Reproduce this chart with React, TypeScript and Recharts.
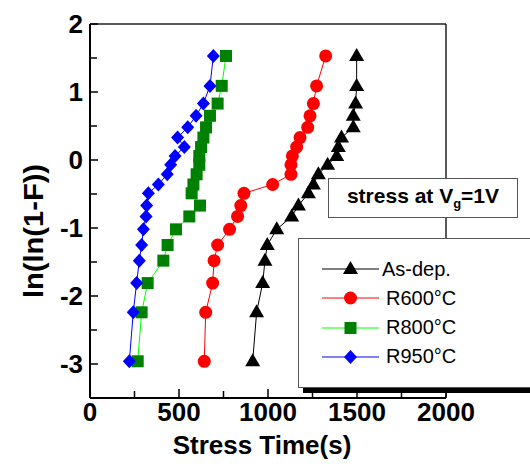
import React from "react";
import { ScatterChart, Scatter, XAxis, YAxis, ReferenceLine } from "recharts";

// ln(ln(1/(1-F))) levels, shared by all four samples
const lnlnF = [-2.96, -2.24, -1.81, -1.48, -1.25, -1.02, -0.83, -0.67, -0.49, -0.36, -0.21, -0.07, 0.06, 0.19, 0.33, 0.48, 0.65, 0.83, 1.09, 1.53];

// stress time (s) for each sample, same order as lnlnF
const asDepTime = [914, 936, 970, 983, 996, 1049, 1133, 1171, 1227, 1255, 1283, 1335, 1386, 1395, 1413, 1479, 1479, 1492, 1498, 1498];
const r600Time = [642, 650, 689, 697, 717, 784, 829, 847, 865, 1026, 1129, 1129, 1137, 1161, 1180, 1223, 1236, 1255, 1273, 1324];
const r800Time = [268, 290, 324, 412, 436, 483, 558, 618, 571, 581, 599, 614, 614, 624, 637, 652, 674, 717, 740, 764];
const r950Time = [221, 243, 262, 277, 290, 300, 315, 318, 328, 384, 434, 453, 478, 530, 492, 549, 596, 637, 674, 693];

const xTicks = [0, 250, 500, 750, 1000, 1250, 1500, 1750, 2000];
const yTicks = [-3, -2.5, -2, -1.5, -1, -0.5, 0, 0.5, 1, 1.5, 2];

const FONT = "'Liberation Sans', Arial, sans-serif";

const toRows = (times: number[]) => times.map((t, i) => ({ t, f: lnlnF[i] }));

const Triangle = (p: any) => (
  <polygon points={`${p.cx},${p.cy - 8} ${p.cx - 7.5},${p.cy + 5} ${p.cx + 7.5},${p.cy + 5}`} fill="#000" />
);
const Circle = (p: any) => <circle cx={p.cx} cy={p.cy} r={6.5} fill="#ff0000" />;
const Square = (p: any) => <rect x={p.cx - 6} y={p.cy - 6} width={12} height={12} fill="#008000" />;
const Diamond = (p: any) => (
  <polygon points={`${p.cx},${p.cy - 7} ${p.cx + 6.5},${p.cy} ${p.cx},${p.cy + 7} ${p.cx - 6.5},${p.cy}`} fill="#0000ff" />
);

const series = [
  { name: "As-dep.", times: asDepTime, line: "#000000", Shape: Triangle },
  { name: "R600°C", times: r600Time, line: "#ff0000", Shape: Circle },
  { name: "R800°C", times: r800Time, line: "#00ff00", Shape: Square },
  { name: "R950°C", times: r950Time, line: "#0000ff", Shape: Diamond },
];

const XTick = (props: any) => {
  const { x, y, payload } = props;
  const major = payload.value % 500 === 0;
  return (
    <g>
      <line x1={x} y1={y} x2={x} y2={y - (major ? 9 : 7)} stroke="#000" strokeWidth={1.5} />
      {major && (
        <text x={x} y={y + 23} textAnchor="middle" fontFamily={FONT} fontWeight="bold" fontSize={26} fill="#000">
          {payload.value}
        </text>
      )}
    </g>
  );
};

const YTick = (props: any) => {
  const { x, y, payload } = props;
  const major = Number.isInteger(payload.value);
  return (
    <g>
      <line x1={x} y1={y} x2={x + (major ? 8 : 7)} y2={y} stroke="#000" strokeWidth={1.5} />
      {major && (
        <text x={x - 7} y={y} dy="0.36em" textAnchor="end" fontFamily={FONT} fontWeight="bold" fontSize={26} fill="#000">
          {payload.value}
        </text>
      )}
    </g>
  );
};

export default function App() {
  return (
    <div style={{ position: "absolute", left: 0, top: 0, width: 530, height: 466, overflow: "hidden", background: "#fff" }}>
      <ScatterChart width={530} height={466} margin={{ top: 24, right: 84, bottom: 0, left: 0 }}>
        <XAxis
          dataKey="t"
          type="number"
          domain={[0, 2000]}
          ticks={xTicks}
          interval={0}
          height={68}
          tickSize={0}
          tickMargin={0}
          tickLine={false}
          tick={<XTick />}
          axisLine={{ stroke: "#000", strokeWidth: 2 }}
          label={() => (
            <text x={262} y={454} textAnchor="middle" fontFamily={FONT} fontWeight="bold" fontSize={26} fill="#000">
              Stress Time(s)
            </text>
          )}
        />
        <YAxis
          dataKey="f"
          type="number"
          domain={[-3.5, 2]}
          ticks={yTicks}
          interval={0}
          width={90}
          tickSize={0}
          tickMargin={0}
          tickLine={false}
          tick={<YTick />}
          axisLine={{ stroke: "#000", strokeWidth: 2 }}
          label={() => (
            <text
              x={33}
              y={231}
              dy="0.36em"
              transform="rotate(-90 33 231)"
              textAnchor="middle"
              textLength={134}
              lengthAdjust="spacingAndGlyphs"
              fontFamily={FONT}
              fontWeight="bold"
              fontSize={27}
              fill="#000"
            >
              ln(ln(1-F))
            </text>
          )}
        />
        <ReferenceLine y={2} stroke="#222" strokeWidth={1.5} />
        <ReferenceLine x={2000} stroke="#222" strokeWidth={1.5} />
        {series.map((s) => (
          <Scatter
            key={s.name}
            name={s.name}
            data={toRows(s.times)}
            line={{ stroke: s.line, strokeWidth: 1 }}
            lineType="joint"
            shape={s.Shape}
            isAnimationActive={false}
          />
        ))}
      </ScatterChart>

      <div
        style={{
          position: "absolute",
          left: 328,
          top: 178,
          width: 190,
          height: 40,
          boxSizing: "border-box",
          border: "1px solid #555",
          background: "#fff",
          display: "flex",
          alignItems: "center",
          justifyContent: "center",
          fontFamily: FONT,
          fontWeight: "bold",
          fontSize: 21,
          color: "#000",
          whiteSpace: "nowrap",
        }}
      >
        <span>
          stress at V<sub style={{ fontSize: 13 }}>g</sub>=1V
        </span>
      </div>

      <div
        style={{
          position: "absolute",
          left: 298,
          top: 238,
          width: 260,
          height: 150,
          boxSizing: "border-box",
          border: "1px solid #555",
          background: "#fff",
          boxShadow: "5px 5px 0 #000",
          fontFamily: FONT,
          fontSize: 20,
          color: "#000",
        }}
      >
        {series.map((s, i) => (
          <div
            key={s.name}
            style={{ position: "absolute", left: 23, top: 16 + i * 29.3, height: 28, display: "flex", alignItems: "center", whiteSpace: "nowrap" }}
          >
            <svg width={58} height={28} style={{ display: "block" }}>
              <line x1={0} y1={14} x2={57} y2={14} stroke={s.line} strokeWidth={1} />
              <s.Shape cx={28.5} cy={14} />
            </svg>
            <span style={{ marginLeft: i === 0 ? 2 : 6 }}>{s.name}</span>
          </div>
        ))}
      </div>
    </div>
  );
}
